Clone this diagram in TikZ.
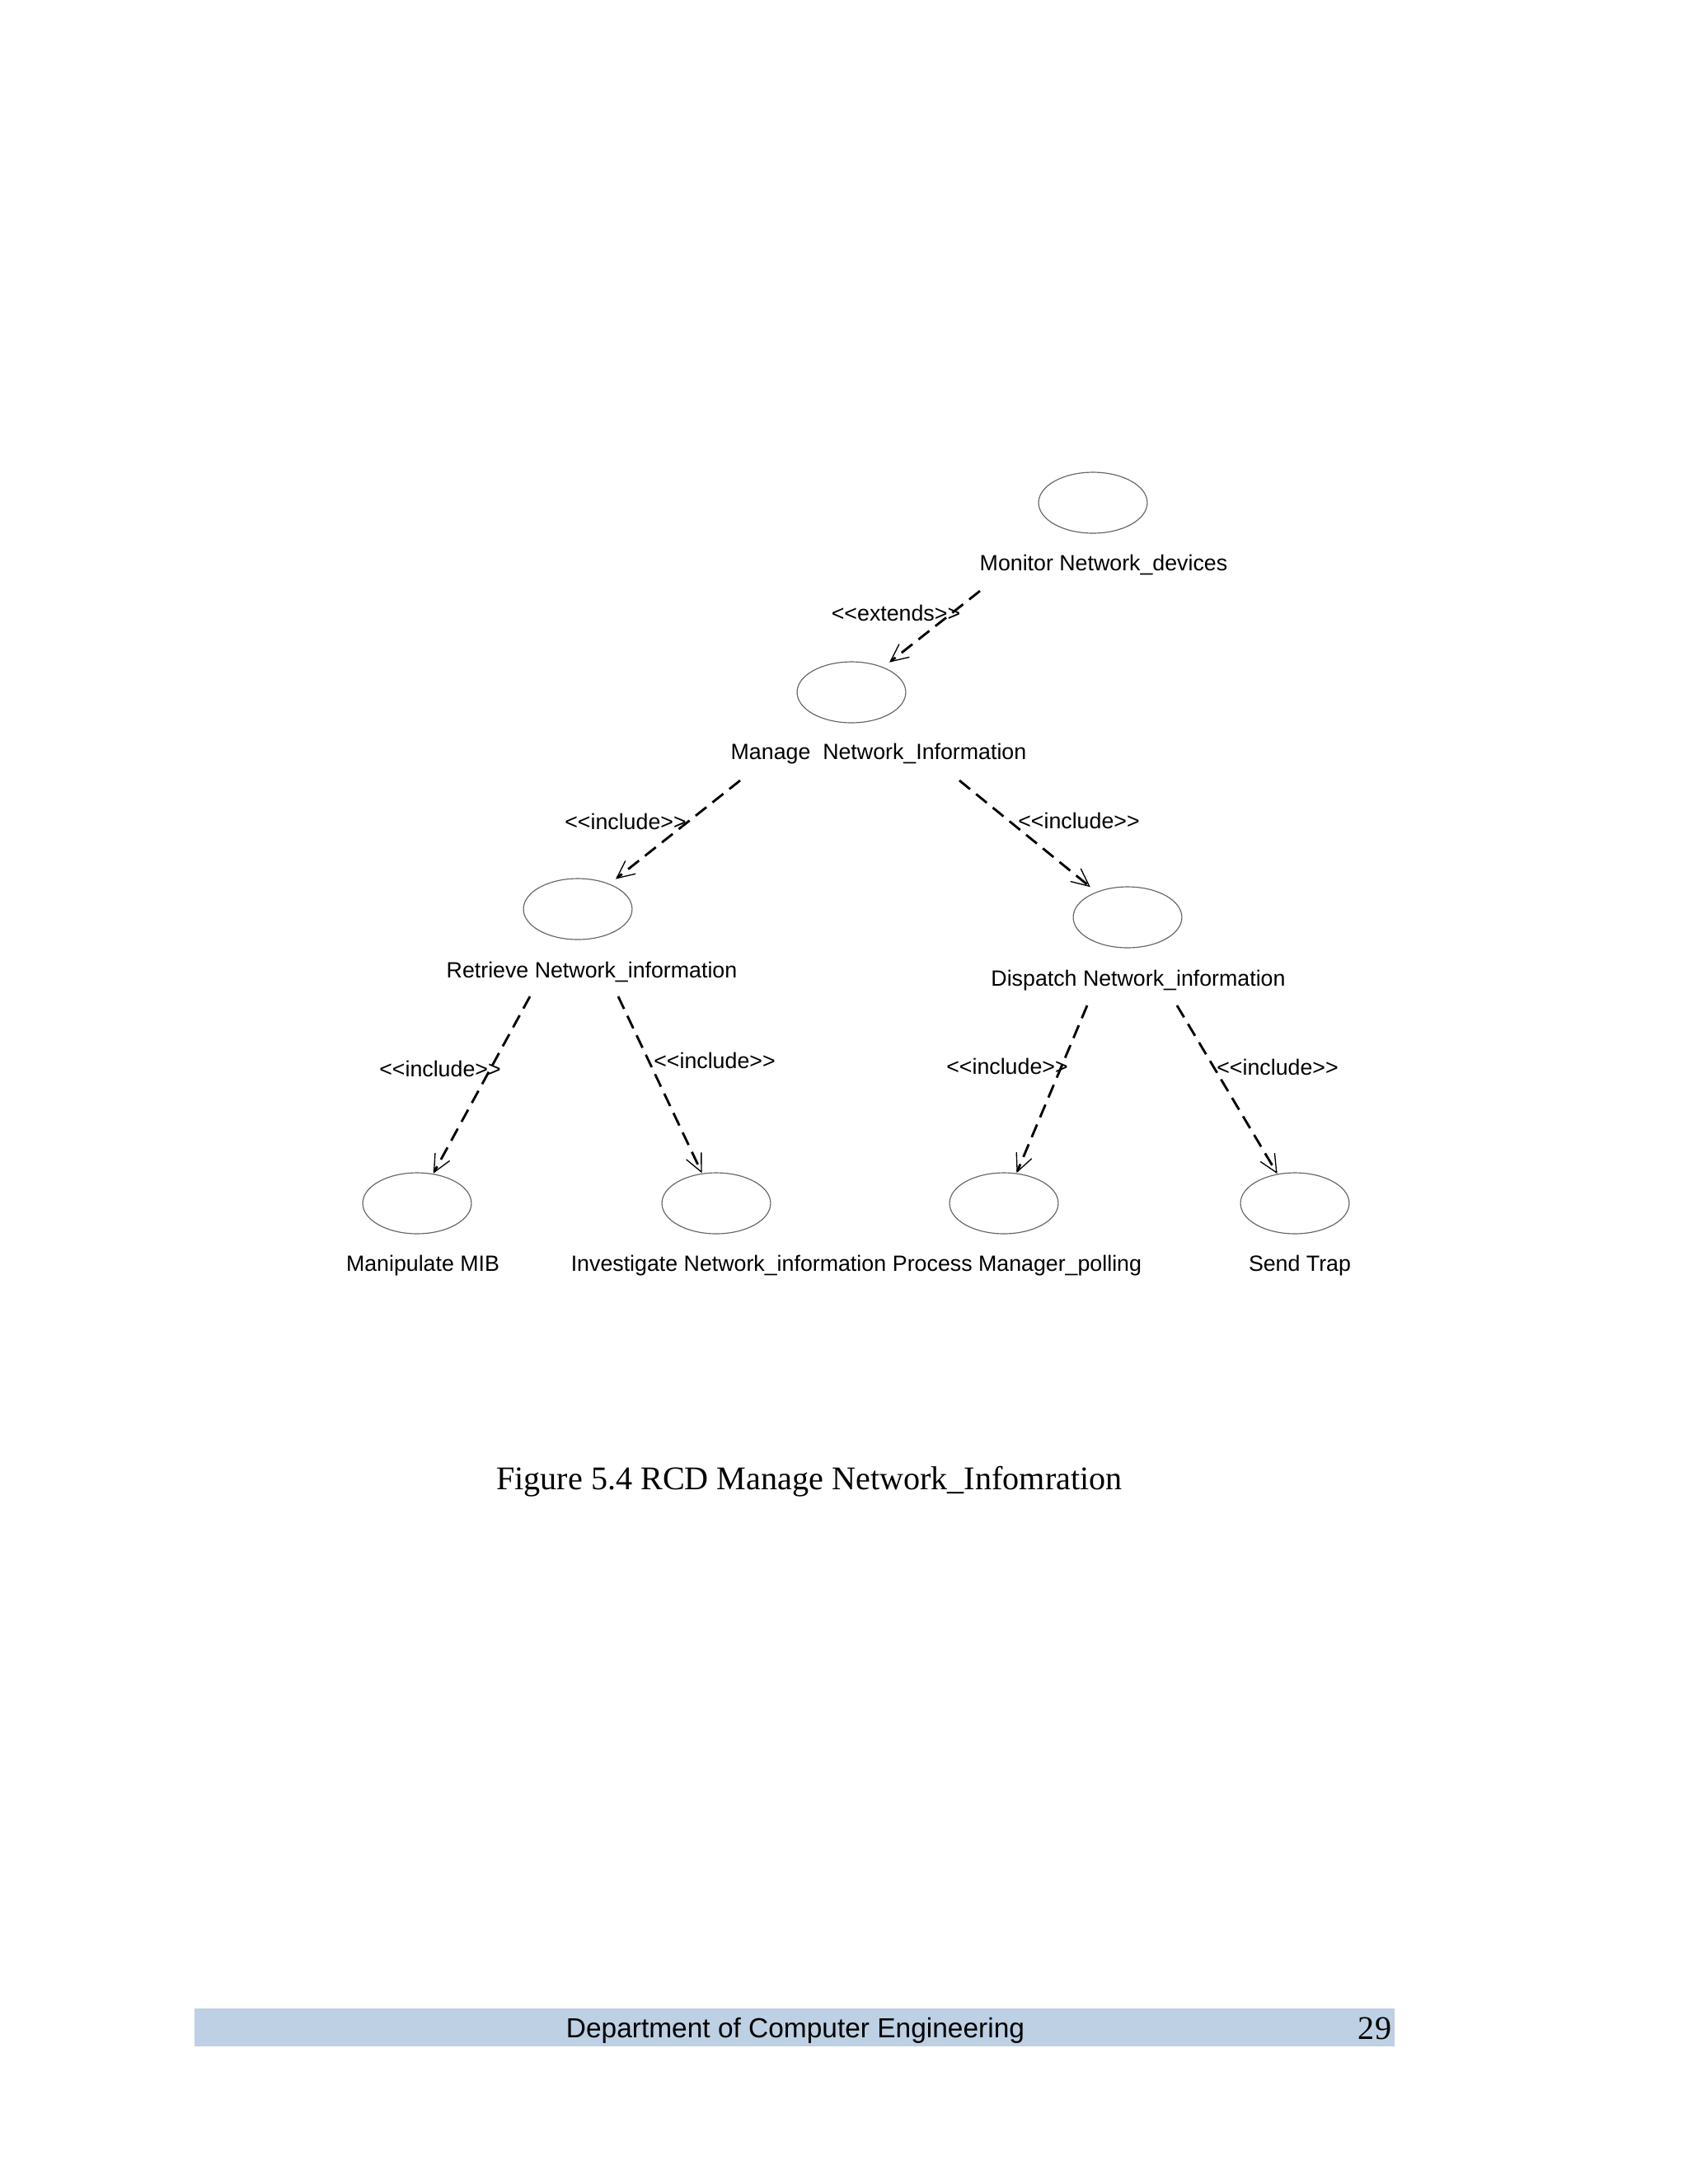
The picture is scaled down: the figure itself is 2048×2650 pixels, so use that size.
\documentclass[tikz,border=0pt]{standalone}
\usepackage{fontspec}
\setmainfont{Liberation Serif}
\newfontfamily\arialf{Liberation Sans}
\usetikzlibrary{arrows.meta,shapes.geometric}
\definecolor{barblue}{HTML}{BDD0E4}
\begin{document}
\begin{tikzpicture}[x=0.29883pt,y=-0.29883pt,
  uc/.style={ellipse,draw=black!60,line width=0.35pt,minimum width=39.4pt,minimum height=22.1pt,inner sep=0pt,outer sep=0pt},
  uclabel/.style={anchor=base,font=\arialf\fontsize{8}{9.6}\selectfont,inner sep=0pt},
  stereo/.style={font=\arialf\fontsize{8}{9.6}\selectfont,inner sep=0pt},
  dep/.style={draw=black,line width=0.85pt,dash pattern=on 5pt off 2.8pt,-{Straight Barb[length=6.4pt,width=6pt,line width=0.4pt]}}
]
\fill[white] (0,0) rectangle (2048,2650);
\useasboundingbox (0,0) rectangle (2048,2650);

% use cases
\node[uc] (mon) at (1326,610) {};
\node[uc] (man) at (1033,840) {};
\node[uc] (ret) at (701,1103) {};
\node[uc] (dis) at (1368,1113) {};
\node[uc] (mib) at (506,1460) {};
\node[uc] (inv) at (869,1460) {};
\node[uc] (pro) at (1218,1460) {};
\node[uc] (trp) at (1571,1460) {};

% labels
\node[uclabel] (monl) at (1339,692) {Monitor Network\_devices};
\node[uclabel] (manl) at (1066,921) {Manage\ \ Network\_Information};
\node[uclabel] (retl) at (718,1186) {Retrieve Network\_information};
\node[uclabel] (disl) at (1381,1196) {Dispatch Network\_information};
\node[uclabel] (mibl) at (513,1542) {Manipulate MIB};
\node[uclabel] (invl) at (884,1542) {Investigate Network\_information};
\node[uclabel] (prol) at (1234,1542) {Process Manager\_polling};
\node[uclabel] (trpl) at (1577,1542) {Send Trap};

% connector start points
\coordinate (s0) at (1189,717);
\coordinate (s1) at (898,947);
\coordinate (s2) at (1164,947);
\coordinate (s3) at (643,1209);
\coordinate (s4) at (750,1209);
\coordinate (s5) at (1319,1220);
\coordinate (s6) at (1428,1220);

\draw[dep,shorten >=3pt] (s0) -- (man);
\draw[dep,shorten >=3pt] (s1) -- (ret);
\draw[dep,shorten >=3pt] (s2) -- (dis);
\draw[dep,shorten >=0.3pt] (s3) -- (mib);
\draw[dep,shorten >=0.3pt] (s4) -- (inv);
\draw[dep,shorten >=0.3pt] (s5) -- (pro);
\draw[dep,shorten >=0.3pt] (s6) -- (trp);

% stereotypes
\node[stereo] (t0) at (1087,744) {<<extends>>};
\node[stereo] (t1) at (759,997) {<<include>>};
\node[stereo] (t2) at (1309,996) {<<include>>};
\node[stereo] (t3) at (534,1297) {<<include>>};
\node[stereo] (t4) at (867,1287) {<<include>>};
\node[stereo] (t5) at (1222,1294) {<<include>>};
\node[stereo] (t6) at (1550,1295) {<<include>>};

% caption
\node[anchor=base,inner sep=0pt,font=\fontsize{12}{14.4}\selectfont] (cap) at (982,1807) {Figure 5.4 RCD Manage Network\_Infomration};

% footer
\fill[barblue] (236,2437) rectangle (1692,2483);
\node[anchor=base,inner sep=0pt,font=\arialf\fontsize{10}{12}\selectfont] (dept) at (965,2472) {Department of Computer Engineering};
\node[anchor=base,inner sep=0pt,font=\fontsize{12}{14.4}\selectfont] (pg) at (1668,2474) {29};
\end{tikzpicture}
\end{document}
